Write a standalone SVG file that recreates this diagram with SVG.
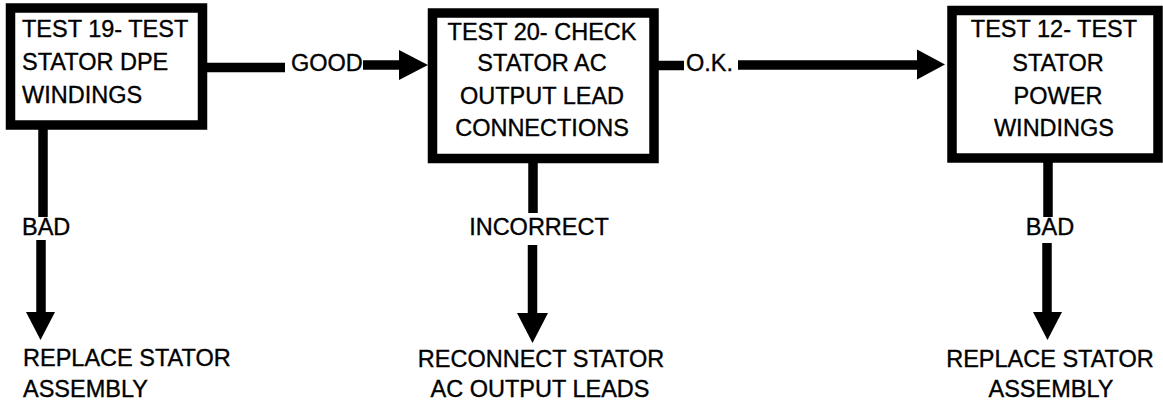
<svg xmlns="http://www.w3.org/2000/svg" width="1163" height="406" viewBox="0 0 1163 406">
<style>
.box{fill:#fff;stroke:#000;stroke-width:9.5}
.t{font-family:"Liberation Sans",Arial,sans-serif;font-size:23.5px;fill:#000;stroke:#000;stroke-width:0.35}
.m{text-anchor:middle}
.ln{stroke:#000;stroke-width:9.5;fill:none}
.hd{fill:#000}
</style>
<rect width="1163" height="406" fill="#fff"/>
<g id="connectors">
<line class="ln" x1="205" y1="67.5" x2="285" y2="67.5"/>
<line class="ln" x1="363" y1="65" x2="402" y2="65"/>
<polygon class="hd" points="399,50 428,65 399,80"/>
<line class="ln" x1="656" y1="65.5" x2="684" y2="65.5"/>
<line class="ln" x1="738" y1="65" x2="920" y2="65"/>
<polygon class="hd" points="917,49.5 945,64.5 917,79.5"/>
<line class="ln" x1="43" y1="128" x2="43" y2="217"/>
<line class="ln" x1="41" y1="240" x2="41" y2="315"/>
<polygon class="hd" points="26,312 55,312 40.5,340"/>
<line class="ln" x1="533" y1="161" x2="533" y2="213"/>
<line class="ln" x1="532.5" y1="245" x2="532.5" y2="316"/>
<polygon class="hd" points="517,313 548,313 532.5,343"/>
<line class="ln" x1="1048" y1="161" x2="1048" y2="217"/>
<line class="ln" x1="1047" y1="243" x2="1047" y2="315"/>
<polygon class="hd" points="1033,312 1062,312 1047.5,340"/>
<text class="t" x="291" y="71">GOOD</text>
<text class="t" x="686" y="71">O.K.</text>
<text class="t" x="22" y="235">BAD</text>
<text class="t m" x="539" y="235">INCORRECT</text>
<text class="t m" x="1050" y="235">BAD</text>
</g>
<g id="n1">
<rect class="box" x="10.5" y="8" width="192" height="117"/>
<text class="t" x="22" y="37">TEST 19- TEST</text>
<text class="t" x="22" y="70">STATOR DPE</text>
<text class="t" x="22" y="103">WINDINGS</text>
</g>
<g id="n2">
<rect class="box" x="432.5" y="13" width="221.5" height="145.5"/>
<text class="t m" x="542" y="40">TEST 20- CHECK</text>
<text class="t m" x="542" y="71">STATOR AC</text>
<text class="t m" x="542" y="104">OUTPUT LEAD</text>
<text class="t m" x="542" y="136">CONNECTIONS</text>
</g>
<g id="n3">
<rect class="box" x="952" y="10.5" width="206" height="147.5"/>
<text class="t m" x="1054" y="37">TEST 12- TEST</text>
<text class="t m" x="1058" y="71">STATOR</text>
<text class="t m" x="1058" y="104">POWER</text>
<text class="t m" x="1054" y="136">WINDINGS</text>
</g>
<g id="r1">
<text class="t" x="23" y="366">REPLACE STATOR</text>
<text class="t" x="23" y="397">ASSEMBLY</text>
</g>
<g id="r2">
<text class="t m" x="541" y="367">RECONNECT STATOR</text>
<text class="t m" x="540" y="397">AC OUTPUT LEADS</text>
</g>
<g id="r3">
<text class="t m" x="1050" y="367">REPLACE STATOR</text>
<text class="t m" x="1051" y="397">ASSEMBLY</text>
</g>
</svg>
